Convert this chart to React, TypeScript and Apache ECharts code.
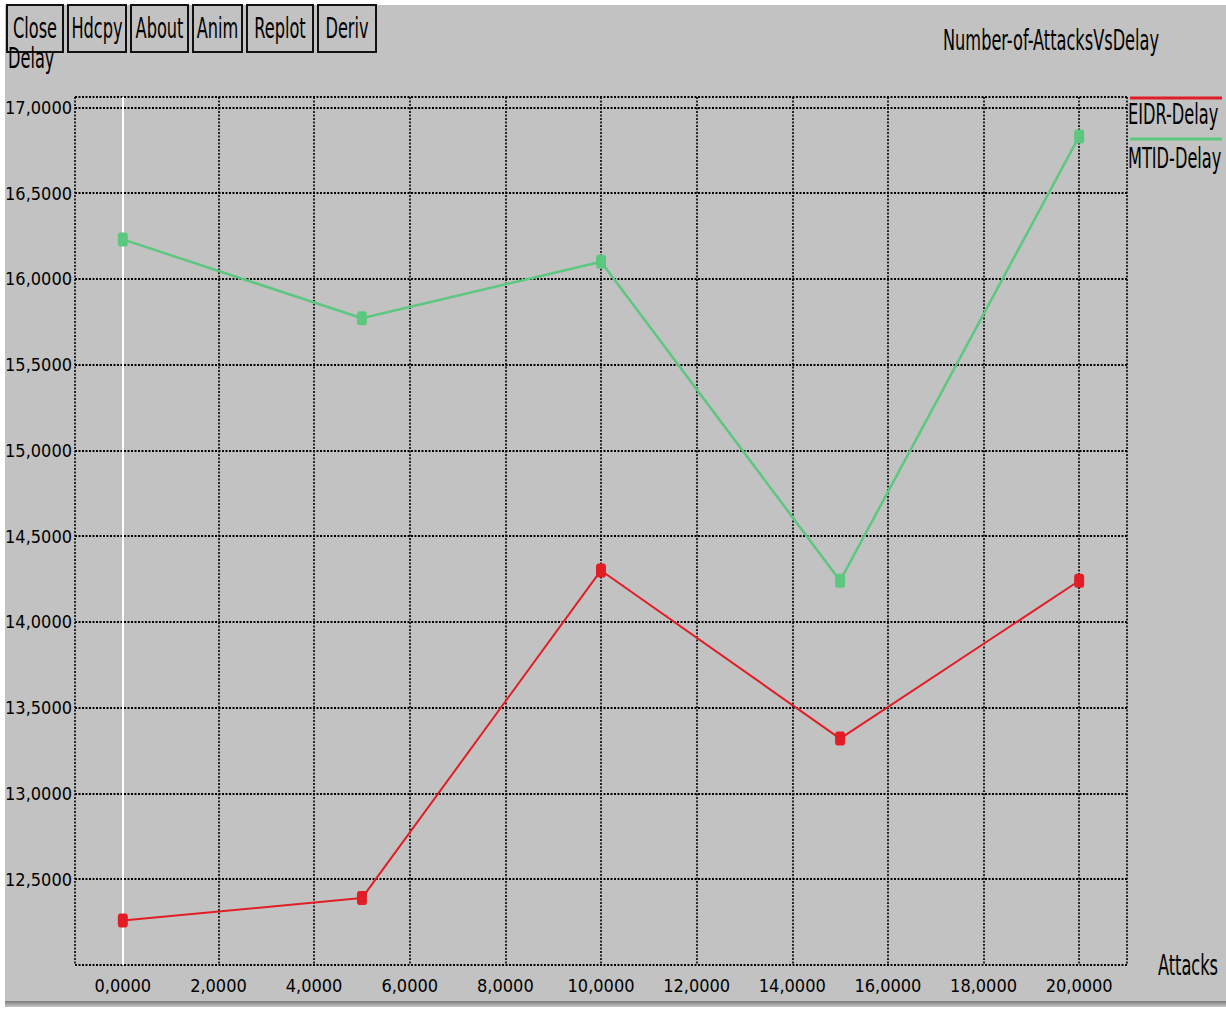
import React, { useEffect, useRef } from 'react';
import * as echarts from 'echarts';

// ---- data ----
const attacks = [0, 5, 10, 15, 20];
const eidrDelay = [12.26, 12.39, 14.3, 13.32, 14.24];
const mtidDelay = [16.23, 15.77, 16.1, 14.24, 16.83];
const seriesNames = ['EIDR-Delay', 'MTID-Delay'];
const xTickLabels = [0, 2, 4, 6, 8, 10, 12, 14, 16, 18, 20];
const yTickLabels = [12.5, 13, 13.5, 14, 14.5, 15, 15.5, 16, 16.5, 17];
const buttonLabels = ['Close', 'Hdcpy', 'About', 'Anim', 'Replot', 'Deriv'];
const chartTitle = 'Number-of-AttacksVsDelay';
const yName = 'Delay';
const xName = 'Attacks';

// ---- styles ----
const BG = '#c2c2c2';
const RED = '#e21d26';
const GREEN = '#5cc77f';
const FONT = "'Liberation Sans Narrow', 'DejaVu Sans Condensed', 'DejaVu Sans Mono', monospace";
const fmt = (v: number) => v.toFixed(4).replace('.', ',');

const X_MIN = -1;
const X_MAX = 21;
const Y_MIN = 12;
const Y_MAX = 17.06;

export default function App() {
  const ref = useRef<HTMLDivElement>(null);
  useEffect(() => {
    if (!ref.current) return;
    const chart = echarts.init(ref.current, undefined, { renderer: 'svg' });

    // vertical split line colours, one per integer tick from X_MIN to X_MAX
    const xLineColors: string[] = [];
    for (let v = X_MIN; v <= X_MAX; v++) {
      const isBorder = v === X_MIN || v === X_MAX;
      const isLabelled = xTickLabels.includes(v) && v !== 0;
      xLineColors.push(isBorder || isLabelled ? '#000' : 'rgba(0,0,0,0)');
    }

    const txt = (text: string, x: number, y: number, align = 'left') => ({
      type: 'text',
      x,
      y,
      scaleY: 1.6,
      style: { text, fill: '#000', font: `18px ${FONT}`, textAlign: align, textVerticalAlign: 'middle' },
    });

    const btnX = [7, 68, 131, 193, 247, 318];
    const btnW = [56, 58, 57, 49, 66, 58];
    const buttons = buttonLabels.map((label, i) => ({
      type: 'group',
      x: btnX[i],
      y: 5,
      z: 10,
      children: [
        { type: 'rect', shape: { x: 0, y: 0, width: btnW[i], height: 47 }, style: { fill: BG, stroke: '#111', lineWidth: 2 } },
        txt(label, btnW[i] / 2, 23, 'center'),
      ],
    }));

    const option: any = {
      animation: false,
      backgroundColor: '#ffffff',
      grid: { left: 75, right: 99, top: 97, bottom: 48, containLabel: false, outerBoundsMode: 'none' },
      xAxis: {
        type: 'value',
        min: X_MIN,
        max: X_MAX,
        interval: 1,
        axisLine: { show: false },
        axisTick: { show: false },
        axisLabel: {
          margin: 11,
          color: '#000',
          fontFamily: FONT,
          fontSize: 18,
          formatter: (v: number) => (xTickLabels.includes(v) ? fmt(v) : ''),
        },
        splitLine: { show: true, lineStyle: { color: xLineColors, type: [2, 1.5], width: 1.6 } },
      },
      yAxis: {
        type: 'value',
        min: Y_MIN,
        max: Y_MAX,
        interval: 0.5,
        axisLine: { show: false },
        axisTick: { show: false },
        axisLabel: {
          margin: 3,
          color: '#000',
          fontFamily: FONT,
          fontSize: 18,
          showMinLabel: false,
          showMaxLabel: false,
          formatter: (v: number) => (yTickLabels.some((t) => Math.abs(t - v) < 1e-6) ? fmt(v) : ''),
        },
        splitLine: { show: true, lineStyle: { color: '#000', type: [2, 1.5], width: 2 } },
      },
      series: [
        {
          name: seriesNames[0],
          type: 'line',
          data: attacks.map((x, i) => [x, eidrDelay[i]]),
          symbol: 'roundRect',
          symbolSize: [10, 14],
          lineStyle: { color: RED, width: 2 },
          itemStyle: { color: RED },
          z: 3,
          markLine: {
            silent: true,
            symbol: 'none',
            label: { show: false },
            lineStyle: { color: '#ffffff', type: 'solid', width: 2 },
            data: [{ xAxis: 0 }],
            z: 1,
          },
        },
        {
          name: seriesNames[1],
          type: 'line',
          data: attacks.map((x, i) => [x, mtidDelay[i]]),
          symbol: 'roundRect',
          symbolSize: [10, 14],
          lineStyle: { color: GREEN, width: 2.5 },
          itemStyle: { color: GREEN },
          z: 3,
        },
      ],
      graphic: [
        { type: 'rect', z: -10, shape: { x: 5, y: 5, width: 1221, height: 997 }, style: { fill: BG } },
        {
          type: 'rect',
          z: -10,
          shape: { x: 5, y: 1001, width: 1221, height: 6 },
          style: {
            fill: new echarts.graphic.LinearGradient(0, 0, 0, 1, [
              { offset: 0, color: '#7a7a7a' },
              { offset: 1, color: '#c8c8c8' },
            ]),
          },
        },
        { ...txt(yName, 8, 58), z: 5 },
        ...buttons,
        txt(chartTitle, 943, 40),
        { type: 'line', shape: { x1: 1130, y1: 98, x2: 1222, y2: 98 }, style: { stroke: RED, lineWidth: 3 } },
        txt(seriesNames[0], 1128, 114),
        { type: 'line', shape: { x1: 1130, y1: 139, x2: 1222, y2: 139 }, style: { stroke: GREEN, lineWidth: 3 } },
        txt(seriesNames[1], 1128, 158),
        txt(xName, 1158, 965),
      ],
    };
    chart.setOption(option);
    return () => chart.dispose();
  }, []);
  return <div ref={ref} style={{ position: 'absolute', left: 0, top: 0, width: 1226, height: 1013 }} />;
}
